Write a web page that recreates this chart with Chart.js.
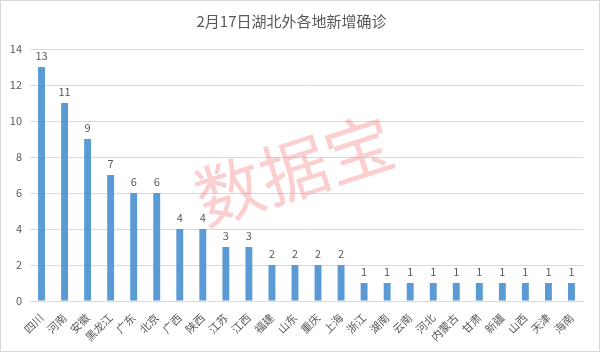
<!DOCTYPE html>
<html>
<head>
<meta charset="utf-8">
<script src="https://cdn.jsdelivr.net/npm/chart.js@4/dist/chart.umd.min.js"></script>
<style>
  html, body { margin: 0; padding: 0; background: #fff; }
  #wrap { width: 600px; height: 352px; }
</style>
</head>
<body>
<div id="wrap"><canvas id="provChart" width="600" height="352"></canvas></div>
<script>
// data
const provinces = ["四川", "河南", "安徽", "黑龙江", "广东", "北京", "广西", "陕西", "江苏", "江西", "福建", "山东",
                   "重庆", "上海", "浙江", "湖南", "云南", "河北", "内蒙古", "甘肃", "新疆", "山西", "天津", "海南"];
const newCases = [13, 11, 9, 7, 6, 6, 4, 4, 3, 3, 2, 2, 2, 2, 1, 1, 1, 1, 1, 1, 1, 1, 1, 1];
const yTicks = [0, 2, 4, 6, 8, 10, 12, 14];
const chartTitle = "2月17日湖北外各地新增确诊";
const watermark = "数据宝";

const fontFamily = "'Noto Sans CJK SC', 'Open Sans', sans-serif";
const grey = "#595959";

// value labels above each bar + watermark + outer frame
const extras = {
    id: "extras",
    afterDatasetsDraw(chart) {
        const ctx = chart.ctx;
        const meta = chart.getDatasetMeta(0);
        ctx.save();
        ctx.fillStyle = grey;
        ctx.font = "11px " + fontFamily;
        ctx.textAlign = "center";
        ctx.textBaseline = "bottom";
        meta.data.forEach((bar, i) => {
            ctx.fillText(newCases[i], bar.x, bar.y - 6);
        });
        ctx.restore();

        // watermark
        ctx.save();
        ctx.translate(294, 170);
        ctx.rotate(-18 * Math.PI / 180);
        ctx.fillStyle = "rgba(245, 130, 130, 0.38)";
        ctx.font = "68px " + fontFamily;
        ctx.textAlign = "center";
        ctx.textBaseline = "middle";
        ctx.fillText(watermark, 0, 0);
        ctx.restore();
    },
    afterDraw(chart) {
        const ctx = chart.ctx;
        ctx.save();
        ctx.strokeStyle = "#d9d9d9";
        ctx.lineWidth = 1;
        ctx.strokeRect(0.5, 0.5, chart.width - 1, chart.height - 1);
        ctx.restore();
    }
};

const ctx = document.getElementById("provChart").getContext("2d");

let provChart = new Chart(ctx, {
    type: 'bar',
    data: {
        labels: provinces,
        datasets: [{
            data: newCases,
            backgroundColor: '#5B9BD5',
            barPercentage: 0.6,
            categoryPercentage: 0.5
        }]
    },
    options: {
        responsive: false,
        animation: false,
        layout: {
            padding: { left: 0, right: 17, top: 0, bottom: 0 }
        },
        plugins: {
            legend: { display: false },
            tooltip: { enabled: false },
            title: {
                display: true,
                text: chartTitle,
                color: grey,
                font: { family: fontFamily, size: 15, weight: 'normal' },
                padding: { top: 12, bottom: 19 }
            }
        },
        scales: {
            x: {
                grid: { display: false },
                border: { color: '#d9d9d9' },
                ticks: {
                    color: grey,
                    font: { family: fontFamily, size: 11 },
                    maxRotation: 45,
                    minRotation: 45,
                    autoSkip: false,
                    padding: 2
                },
                afterFit(scale) { scale.height = 51; }
            },
            y: {
                min: 0,
                max: 14,
                afterBuildTicks(scale) { scale.ticks = yTicks.map(v => ({ value: v })); },
                grid: { color: '#d9d9d9', drawTicks: false },
                border: { display: false },
                ticks: {
                    color: grey,
                    font: { family: fontFamily, size: 11 },
                    padding: 8
                },
                afterFit(scale) { scale.width = 30; }
            }
        }
    },
    plugins: [extras]
});
</script>
</body>
</html>
